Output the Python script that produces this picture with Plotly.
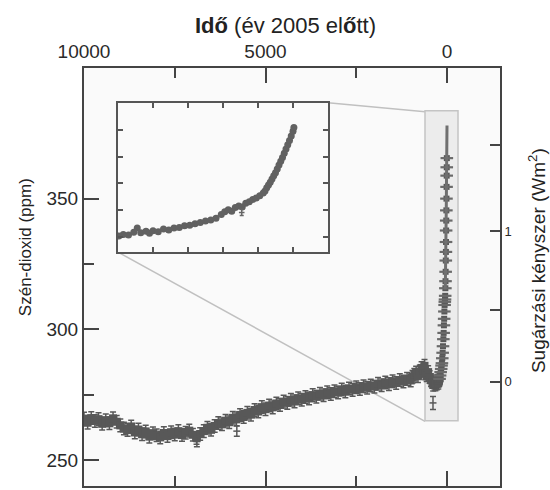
import math
import plotly.graph_objects as go

# ---------------- data ----------------
# ice-core CO2, years before 2005 and ppm (main panel)
ice_years = [10000, 9900, 9800, 9700, 9600, 9500, 9400, 9300, 9200, 9100,
             9000, 8900, 8800, 8700, 8600, 8500, 8400, 8300, 8200, 8100,
             8000, 7900, 7800, 7700, 7600, 7500, 7400, 7300, 7200, 7100,
             7000, 6900, 6800, 6700, 6600, 6500, 6400, 6300, 6200, 6100,
             6000, 5900, 5800, 5700, 5600, 5500, 5400, 5300, 5200, 5100,
             5000, 4900, 4800, 4700, 4600, 4500, 4400, 4300, 4200, 4100,
             4000, 3900, 3800, 3700, 3600, 3500, 3400, 3300, 3200, 3100,
             3000, 2900, 2800, 2700, 2600, 2500, 2400, 2300, 2200, 2100,
             2000, 1900, 1800, 1700, 1600, 1500, 1400, 1300, 1200, 1100,
             1000, 950, 900, 850, 800, 750, 700, 650, 620, 600, 560, 520,
             480, 440, 400, 380, 350, 320, 300, 280, 260, 240, 220, 200]
ice_co2 = [265.8, 264.2, 266.0, 264.9, 265.6, 263.8, 265.2, 264.0, 265.9, 264.6,
           263.2, 262.0, 261.4, 262.8, 260.5, 261.6, 259.8, 260.9, 258.9, 260.2,
           259.4, 258.6, 260.3, 259.1, 260.6, 259.7, 261.0, 259.5, 260.4, 261.2,
           259.6, 258.4, 259.9, 261.0, 262.3, 261.5, 263.0, 264.1, 263.6, 265.0,
           264.4, 266.1, 265.5, 267.2, 266.4, 268.0, 267.3, 269.1, 268.5, 270.2,
           269.4, 270.8, 270.1, 271.6, 271.0, 272.3, 271.8, 273.0, 272.4, 273.6,
           273.0, 274.1, 273.5, 274.8, 274.2, 275.3, 274.7, 275.9, 275.2, 276.3,
           275.8, 276.9, 276.2, 277.3, 276.8, 277.8, 277.1, 278.2, 277.6, 278.5,
           278.0, 279.1, 278.6, 279.6, 279.0, 280.1, 279.4, 280.6, 280.0, 281.0,
           280.4, 281.8, 282.6, 283.4, 282.0, 283.8, 285.2, 284.2, 286.0, 283.1, 282.4, 283.6,
           281.7, 280.5, 279.8, 278.8, 279.6, 278.9, 280.0, 279.2, 280.3, 279.5, 280.4, 281.2]

# isolated measurements with visible error bars
odd_years = [6890, 5790, 386]
odd_co2 = [257.0, 261.0, 271.8]
odd_err = [2.0, 2.0, 2.5]

# industrial-era ice/firn record (years before 2005)
rise_years = [205, 190, 175, 160, 150, 140, 130, 120, 110, 100, 92, 85, 78, 72,
              66, 60, 55, 50, 45, 41, 37, 33, 30, 27, 24, 21, 18, 15, 12, 9, 7, 5]
rise_co2 = [281.0, 282.3, 283.6, 284.8, 286.1, 287.0, 288.9, 291.0, 293.5, 296.2,
            298.6, 301.5, 304.0, 306.8, 309.3, 310.5, 311.4, 312.8, 315.7, 318.4,
            322.0, 326.3, 329.6, 333.4, 337.8, 341.6, 345.5, 350.0, 354.5, 358.8,
            362.0, 365.5]

# atmospheric record (years before 2005)
atm_years = [47, 40, 35, 30, 25, 20, 15, 10, 5, 0]
atm_co2 = [315.2, 320.0, 325.7, 331.1, 338.7, 346.1, 354.4, 360.8, 369.7, 378.0]

# inset: year AD and CO2
inset_years = [1005, 1030, 1060, 1090, 1110, 1130, 1160, 1180, 1200, 1230, 1260,
               1290, 1320, 1350, 1380, 1410, 1440, 1470, 1500, 1530, 1560, 1590,
               1610, 1630, 1650, 1670, 1690, 1710, 1730, 1750, 1770, 1790, 1810,
               1830, 1840, 1850, 1860, 1870, 1880, 1890, 1900, 1910, 1920, 1930,
               1940, 1950, 1960, 1970, 1980, 1990, 2000, 2005]
inset_co2 = [281.0, 282.5, 282.0, 284.5, 288.5, 284.0, 285.5, 283.5, 286.0, 285.0,
             287.5, 286.5, 288.5, 289.0, 290.5, 291.0, 292.5, 293.5, 295.0, 296.0,
             297.5, 301.0, 303.5, 305.5, 304.0, 307.5, 309.0, 308.0, 311.5, 313.0,
             315.0, 316.5, 318.5, 321.0, 323.0, 326.0, 328.5, 331.0, 334.0, 337.0,
             340.0, 343.5, 347.0, 350.5, 354.0, 358.0, 362.0, 366.0, 370.0, 374.0,
             378.5, 382.0]
inset_odd_years = [1707]
inset_odd_co2 = [303.0]

# axis ticks
x_major = [10000, 5000, 0]
x_minor = [7500, 2500]
y_major = [250, 300, 350]
y_minor = [275, 325]
forcing_major = [0, 1]
forcing_minor = [0.5, 1.5]
inset_x_ticks = [1200, 1400, 1600, 1800, 2000]
inset_y_ticks = [280, 305, 330, 355, 380]

# ---------------- style ----------------
FONT = "Liberation Sans, Arial, sans-serif"
AX = "#444444"
PT = "#585858"
TXT = "#2a2a2a"
X_RANGE = [10000, -1460]
Y_RANGE = [240, 400]


def ppm_of_forcing(f):
    return 280.0 * math.exp(f / 5.35)


fig = go.Figure()

# main panel
fig.add_trace(go.Scatter(
    x=ice_years, y=ice_co2, mode="markers", xaxis="x", yaxis="y",
    marker=dict(symbol="square", size=8, color=PT),
    error_y=dict(type="constant", value=2.4, color=PT, thickness=1.5, width=3),
    showlegend=False, hoverinfo="skip"))
fig.add_trace(go.Scatter(
    x=odd_years, y=odd_co2, mode="markers", xaxis="x", yaxis="y",
    marker=dict(symbol="line-ew", size=5, color=PT, line=dict(width=1.5, color=PT)),
    error_y=dict(type="data", array=odd_err, color=PT, thickness=1.5, width=3),
    showlegend=False, hoverinfo="skip"))
fig.add_trace(go.Scatter(
    x=rise_years, y=rise_co2, mode="markers", xaxis="x", yaxis="y",
    marker=dict(symbol="square", size=6, color=PT),
    showlegend=False, hoverinfo="skip"))
fig.add_trace(go.Scatter(
    x=rise_years, y=rise_co2, mode="markers", xaxis="x", yaxis="y",
    marker=dict(symbol="line-ew", size=9, color="#6a6a6a", line=dict(width=2.2, color="#6a6a6a")),
    showlegend=False, hoverinfo="skip"))
fig.add_trace(go.Scatter(
    x=atm_years, y=atm_co2, mode="lines", xaxis="x", yaxis="y",
    line=dict(color="#707070", width=3),
    showlegend=False, hoverinfo="skip"))
# invisible trace so the right-hand forcing axis renders its labels
fig.add_trace(go.Scatter(
    x=[atm_years[0]], y=[atm_co2[0]], mode="markers", xaxis="x", yaxis="y2",
    marker=dict(size=1, opacity=0), showlegend=False, hoverinfo="skip"))

# inset
fig.add_trace(go.Scatter(
    x=inset_years, y=inset_co2, mode="markers", xaxis="x3", yaxis="y3",
    marker=dict(symbol="circle", size=7, color="#616161"),
    showlegend=False, hoverinfo="skip"))
fig.add_trace(go.Scatter(
    x=inset_odd_years, y=inset_odd_co2, mode="markers", xaxis="x3", yaxis="y3",
    marker=dict(symbol="line-ew", size=4, color="#666666", line=dict(width=1.5, color="#666666")),
    error_y=dict(type="constant", value=3, color="#666666", thickness=1.5, width=2),
    showlegend=False, hoverinfo="skip"))


# pixel helpers for layout decorations (plot area 84..500 x 68..488)
def px(X):
    return (X - 84) / 416.0


def py(Y):
    return (488 - Y) / 420.0


inset_dom_x = [px(118), px(328)]
inset_dom_y = [py(253), py(103)]

shapes = [
    dict(type="rect", xref="x", yref="y", x0=606, x1=-303, y0=265, y1=383.6,
         fillcolor="#ececec", line=dict(color="#c4c4c4", width=1.5), layer="below"),
    dict(type="rect", xref="paper", yref="paper", x0=inset_dom_x[0], x1=inset_dom_x[1],
         y0=inset_dom_y[0], y1=inset_dom_y[1], fillcolor="#efefef",
         line=dict(width=0), layer="below"),
    dict(type="line", xref="paper", yref="paper", x0=px(328), y0=py(103), x1=px(425), y1=py(112),
         line=dict(color="#c0c0c0", width=1.5), layer="below"),
    dict(type="line", xref="paper", yref="paper", x0=px(118), y0=py(253), x1=px(425), y1=py(423),
         line=dict(color="#c0c0c0", width=1.5), layer="below"),
]

axis_common = dict(showline=True, linecolor=AX, linewidth=2, showgrid=False, zeroline=False,
                   ticks="inside", tickcolor=AX, tickwidth=2)

fig.update_layout(
    width=550, height=490,
    margin=dict(l=84, r=50, t=68, b=2),
    paper_bgcolor="white", plot_bgcolor="#fafafa",
    font=dict(family=FONT, color=TXT),
    shapes=shapes,
    xaxis=dict(**axis_common, range=X_RANGE, side="top", mirror="ticks", ticklen=15,
               tickvals=x_major, ticktext=[str(v) for v in x_major],
               tickfont=dict(size=19, color=TXT),
               minor=dict(tickvals=x_minor, ticks="inside", ticklen=10, tickcolor=AX, tickwidth=2)),
    yaxis=dict(**axis_common, range=Y_RANGE, ticklen=15,
               tickvals=y_major, ticktext=[str(v) for v in y_major],
               tickfont=dict(size=19, color=TXT),
               minor=dict(tickvals=y_minor, ticks="inside", ticklen=10, tickcolor=AX, tickwidth=2)),
    yaxis2=dict(**axis_common, range=Y_RANGE, overlaying="y", side="right", anchor="x",
                ticklen=10,
                tickvals=[ppm_of_forcing(f) for f in forcing_major],
                ticktext=[str(f) for f in forcing_major],
                tickfont=dict(size=13, color=TXT),
                minor=dict(tickvals=[ppm_of_forcing(f) for f in forcing_minor], ticks="inside",
                           ticklen=10, tickcolor=AX, tickwidth=2)),
    xaxis3=dict(showline=True, linecolor="#555555", linewidth=2, mirror="ticks",
                showgrid=False, zeroline=False, ticks="inside", ticklen=5, tickwidth=1.5,
                tickcolor="#555555", domain=inset_dom_x, anchor="y3", range=[1000, 2200],
                tickvals=inset_x_ticks, showticklabels=False),
    yaxis3=dict(showline=True, linecolor="#555555", linewidth=2, mirror="ticks",
                showgrid=False, zeroline=False, ticks="inside", ticklen=5, tickwidth=1.5,
                tickcolor="#555555", domain=inset_dom_y, anchor="x3", range=[266, 405],
                tickvals=inset_y_ticks, showticklabels=False),
    annotations=[
        dict(text="<b>Idő</b> (év 2005 el<b>ő</b>tt)", xref="paper", yref="paper",
             x=px(285), y=py(25), showarrow=False, font=dict(size=22, color="#222222"),
             xanchor="center", yanchor="middle"),
        dict(text="Szén-dioxid (ppm)", xref="paper", yref="paper", x=px(25), y=py(248),
             showarrow=False, textangle=-90, font=dict(size=17, color="#222222"),
             xanchor="center", yanchor="middle"),
        dict(text="Sugárzási kényszer (Wm<sup>2</sup>)", xref="paper", yref="paper",
             x=px(537), y=py(262), showarrow=False, textangle=-90,
             font=dict(size=19, color="#222222"), xanchor="center", yanchor="middle"),
    ],
)

fig.write_html("out.html")
